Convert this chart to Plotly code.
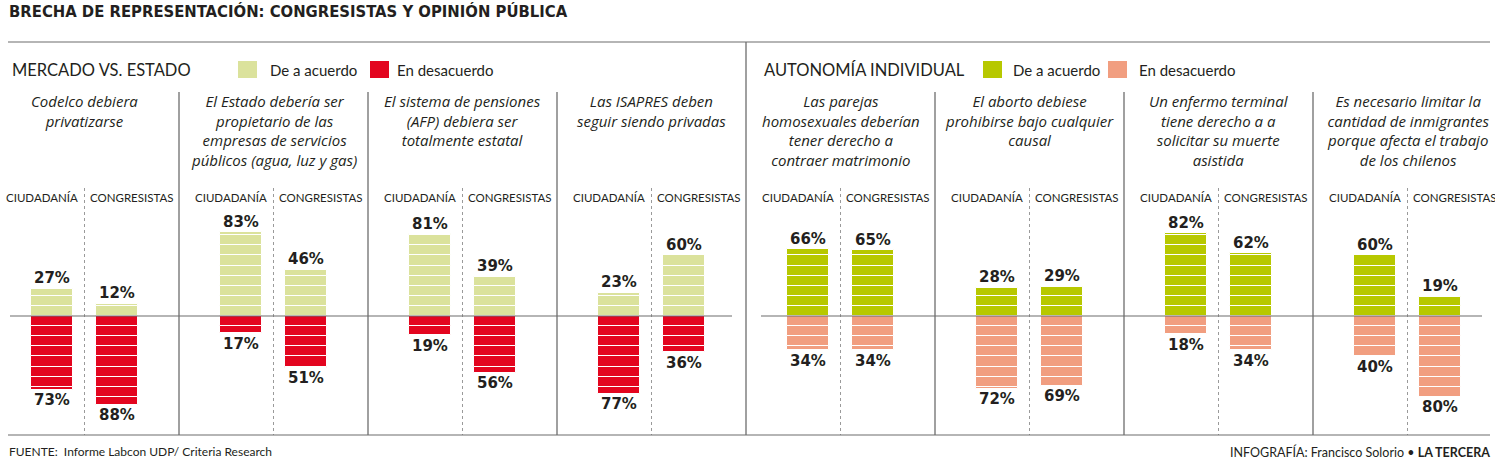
import plotly.graph_objects as go

# ---------------- data ----------------
questions = [
    "Codelco debiera<br>privatizarse",
    "El Estado debería ser<br>propietario de las<br>empresas de servicios<br>públicos (agua, luz y gas)",
    "El sistema de pensiones<br>(AFP) debiera ser<br>totalmente estatal",
    "Las ISAPRES deben<br>seguir siendo privadas",
    "Las parejas<br>homosexuales deberían<br>tener derecho a<br>contraer matrimonio",
    "El aborto debiese<br>prohibirse bajo cualquier<br>causal",
    "Un enfermo terminal<br>tiene derecho a a<br>solicitar su muerte<br>asistida",
    "Es necesario limitar la<br>cantidad de inmigrantes<br>porque afecta el trabajo<br>de los chilenos",
]
groups = ["CIUDADANÍA", "CONGRESISTAS"]
ciud_acuerdo = [27, 83, 81, 23, 66, 28, 82, 60]
ciud_desacuerdo = [73, 17, 19, 77, 34, 72, 18, 40]
cong_acuerdo = [12, 46, 39, 60, 65, 29, 62, 19]
cong_desacuerdo = [88, 51, 56, 36, 34, 69, 34, 80]
section = ["MERCADO VS. ESTADO"] * 4 + ["AUTONOMÍA INDIVIDUAL"] * 4

title = "BRECHA DE REPRESENTACIÓN: CONGRESISTAS Y OPINIÓN PÚBLICA"
source = "FUENTE:  Informe Labcon UDP/ Criteria Research"
credit = "INFOGRAFÍA: Francisco Solorio • <b>LA TERCERA</b>"

# ---------------- style ----------------
W, H = 1495, 461
COL = {
    "MERCADO VS. ESTADO": ("#dbe29c", "#e3051f"),
    "AUTONOMÍA INDIVIDUAL": ("#b7c800", "#f19e80"),
}
TXT = "#231f20"
LINE = "#6d6d6d"
BODY = "Lato"
QFONT = "Open Sans"
NUM = "DejaVu Sans"
TFONT = "DejaVu Sans Condensed, Liberation Sans Narrow, Roboto"

pitch = 189
first_center = 84.5
offset = 32.5
bar_w = 42
zero_px = 316
px_per_unit = 1.01
y_top = zero_px / px_per_unit
y_bot = -(H - zero_px) / px_per_unit


def py(p):  # pixel -> paper y
    return 1 - p / H


centers = [first_center + pitch * i for i in range(len(questions))]

fig = go.Figure()

series = [
    (0, ciud_acuerdo, ciud_desacuerdo),
    (1, cong_acuerdo, cong_desacuerdo),
]

for gi, agree, disagree in series:
    xs = [c + (2 * gi - 1) * offset for c in centers]
    cols_a = [COL[s][0] for s in section]
    cols_d = [COL[s][1] for s in section]
    # striped bars: stacked 10% segments
    for k in range(10):
        ya = [max(0, min(10, v - 10 * k)) for v in agree]
        yd = [-max(0, min(10, v - 10 * k)) for v in disagree]
        fig.add_trace(go.Bar(x=xs, y=ya, base=[10 * k] * len(xs), width=bar_w,
                             marker=dict(color=cols_a, line=dict(color="white", width=1)),
                             showlegend=False, hoverinfo="skip"))
        fig.add_trace(go.Bar(x=xs, y=yd, base=[-10 * k] * len(xs), width=bar_w,
                             marker=dict(color=cols_d, line=dict(color="white", width=1)),
                             showlegend=False, hoverinfo="skip"))
    for x, a, d in zip(xs, agree, disagree):
        fig.add_annotation(x=x, y=a - 0.5, xref="x", yref="y", text=f"<b>{a}%</b>",
                           showarrow=False, yanchor="bottom",
                           font=dict(family=NUM, size=15, color=TXT))
        fig.add_annotation(x=x, y=-d + 0.5, xref="x", yref="y", text=f"<b>{d}%</b>",
                           showarrow=False, yanchor="top",
                           font=dict(family=NUM, size=15, color=TXT))

# group labels, anchored on either side of the dotted separator
for c in centers:
    fig.add_annotation(x=c - 5, y=py(198), xref="x", yref="paper", text=groups[0],
                       showarrow=False, xanchor="right", yanchor="middle",
                       font=dict(family=BODY, size=11.5, color=TXT))
    fig.add_annotation(x=c + 3, y=py(198), xref="x", yref="paper", text=groups[1],
                       showarrow=False, xanchor="left", yanchor="middle",
                       font=dict(family=BODY, size=11.5, color=TXT))

shapes = []
# questions + dotted separators
for c, q in zip(centers, questions):
    fig.add_annotation(x=c, y=py(89), xref="x", yref="paper", text=f"<i>{q}</i>",
                       showarrow=False, yanchor="top", align="center",
                       font=dict(family=QFONT, size=15, color=TXT))
    shapes.append(dict(type="line", xref="x", yref="paper", x0=c, x1=c,
                       y0=py(188), y1=py(435), line=dict(color="#9a9a9a", width=1, dash="dot")))

# solid panel dividers
for i in range(len(centers) - 1):
    xm = (centers[i] + centers[i + 1]) / 2
    top = 42 if section[i] != section[i + 1] else 92
    shapes.append(dict(type="line", xref="x", yref="paper", x0=xm, x1=xm,
                       y0=py(top), y1=py(435), line=dict(color=LINE, width=1.3)))

# horizontal rules
shapes.append(dict(type="line", xref="x", yref="paper", x0=8, x1=1490, y0=py(42), y1=py(42),
                   line=dict(color=LINE, width=1.2)))
shapes.append(dict(type="line", xref="x", yref="paper", x0=8, x1=1490, y0=py(435), y1=py(435),
                   line=dict(color=LINE, width=1.2)))
# zero lines
shapes.append(dict(type="line", xref="x", yref="y", x0=10, x1=732, y0=0, y1=0,
                   line=dict(color=LINE, width=1.2), layer="above"))
shapes.append(dict(type="line", xref="x", yref="y", x0=761, x1=1482, y0=0, y1=0,
                   line=dict(color=LINE, width=1.2), layer="above"))

# section headers + legends
sec_layout = [
    ("MERCADO VS. ESTADO", 10, (238, 268), (370, 395)),
    ("AUTONOMÍA INDIVIDUAL", 762, (983, 1011), (1108, 1137)),
]
for name, xt, (xa, ta), (xd, td) in sec_layout:
    ca, cd = COL[name]
    fig.add_annotation(x=xt, y=py(70), xref="x", yref="paper", text=name, showarrow=False,
                       xanchor="left", yanchor="middle", font=dict(family=BODY, size=16.5, color=TXT))
    for xs_, tx, col, lab in [(xa, ta, ca, "De a acuerdo"), (xd, td, cd, "En desacuerdo")]:
        shapes.append(dict(type="rect", xref="x", yref="paper", x0=xs_, x1=xs_ + 19,
                           y0=py(61), y1=py(78), fillcolor=col, line=dict(width=0)))
        fig.add_annotation(x=tx, y=py(70), xref="x", yref="paper", text=lab,
                           showarrow=False, xanchor="left", yanchor="middle",
                           font=dict(family=BODY, size=15, color=TXT))

# title and footer
fig.add_annotation(x=7, y=py(11), xref="x", yref="paper", text=f"<b>{title}</b>", showarrow=False,
                   xanchor="left", yanchor="middle",
                   font=dict(family=TFONT, size=16.5, color=TXT))
fig.add_annotation(x=7, y=py(451), xref="x", yref="paper", text=source, showarrow=False,
                   xanchor="left", yanchor="middle", font=dict(family=BODY, size=12, color=TXT))
fig.add_annotation(x=1492, y=py(452), xref="x", yref="paper", text=credit, showarrow=False,
                   xanchor="right", yanchor="middle", font=dict(family=BODY, size=12.5, color=TXT))

fig.update_layout(
    width=W, height=H, margin=dict(l=0, r=0, t=0, b=0),
    paper_bgcolor="white", plot_bgcolor="white",
    barmode="overlay", bargap=0, showlegend=False,
    xaxis=dict(range=[0, W], visible=False, fixedrange=True),
    yaxis=dict(range=[y_bot, y_top], visible=False, fixedrange=True),
    shapes=shapes,
)

fig.write_html("out.html")
